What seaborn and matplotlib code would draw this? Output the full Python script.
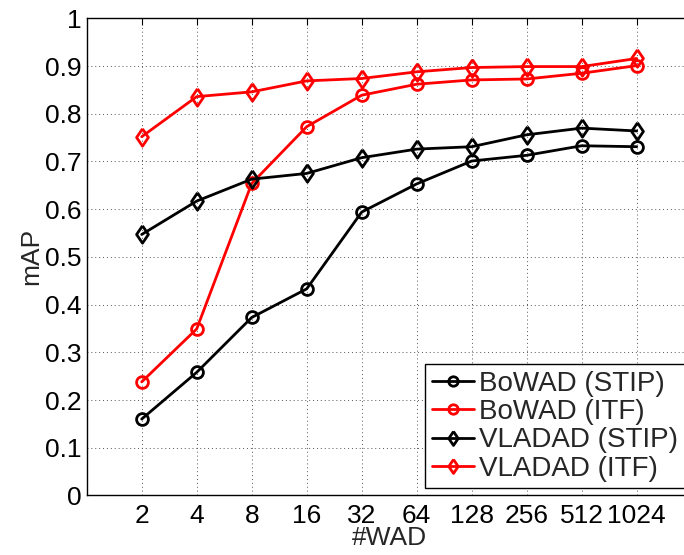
import pandas as pd
import matplotlib
matplotlib.use("Agg")
import matplotlib.pyplot as plt
import seaborn as sns
import numpy as np

# number of WAD (x categories)
wad_labels = ["2", "4", "8", "16", "32", "64", "128", "256", "512", "1024"]

# mAP values
bowad_stip = [0.160, 0.258, 0.373, 0.433, 0.594, 0.653, 0.701, 0.713, 0.733, 0.731]
bowad_itf = [0.238, 0.349, 0.654, 0.773, 0.839, 0.862, 0.871, 0.873, 0.885, 0.901]
vladad_stip = [0.547, 0.617, 0.663, 0.675, 0.708, 0.726, 0.731, 0.756, 0.770, 0.764]
vladad_itf = [0.752, 0.836, 0.846, 0.869, 0.874, 0.888, 0.897, 0.899, 0.899, 0.916]

series_names = ["BoWAD (STIP)", "BoWAD (ITF)", "VLADAD (STIP)", "VLADAD (ITF)"]
series_values = [bowad_stip, bowad_itf, vladad_stip, vladad_itf]


def build_frame():
    """
    Builds a long-form DataFrame with one row per point.
    """
    rows = []
    for name, values in zip(series_names, series_values):
        for i, v in enumerate(values):
            rows.append({"pos": i, "mAP": v, "method": name})
    return pd.DataFrame(rows)


def plot_map_curves(df):
    """
    Plots mAP against the number of WAD for each method.
    """
    sns.set_theme(style="white")
    plt.rcParams["font.family"] = ["Liberation Sans", "DejaVu Sans"]

    fig = plt.figure(figsize=(6.84, 5.55), dpi=100)
    # the original figure is cropped on the right, so the axes runs past the edge
    ax = fig.add_axes([86.7 / 684, 59.6 / 555, 605 / 684, 477 / 555])

    # matlab style diamond, taller than wide
    diamond = [(0, 1), (0.68, 0), (0, -1), (-0.68, 0), (0, 1)]
    styles = {
        "BoWAD (STIP)": ("black", "o", 8.5),
        "BoWAD (ITF)": ("red", "o", 8.5),
        "VLADAD (STIP)": ("black", diamond, 12.5),
        "VLADAD (ITF)": ("red", diamond, 12.5),
    }
    for name in series_names:
        color, marker, ms = styles[name]
        sns.lineplot(data=df[df["method"] == name], x="pos", y="mAP", ax=ax,
                     color=color, marker=marker, markersize=ms,
                     markerfacecolor="none", markeredgecolor=color,
                     markeredgewidth=2.0, linewidth=2.0, label=name)

    ax.set_xlim(-1, 10)
    ax.set_ylim(0, 1)
    ax.set_xticks(np.arange(len(wad_labels)))
    ax.set_xticklabels(wad_labels)
    ax.set_yticks(np.arange(0, 1.01, 0.1))
    ax.set_yticklabels(["0", "0.1", "0.2", "0.3", "0.4", "0.5",
                        "0.6", "0.7", "0.8", "0.9", "1"])
    ax.tick_params(direction="in", length=5, width=0.8, top=True, right=True,
                   labelsize=19, colors="black")
    ax.tick_params(axis="x", pad=6.5)
    ax.tick_params(axis="y", pad=3.6)
    ax.grid(True, linestyle=(0, (1, 3)), color="#555555", linewidth=0.7)
    for spine in ax.spines.values():
        spine.set_color("black")
        spine.set_linewidth(1.0)

    ax.set_xlabel("#WAD", fontsize=19, labelpad=-1.5)
    ax.set_ylabel("mAP", fontsize=19, labelpad=1.5)

    leg = ax.legend(loc="lower right", fontsize=20, frameon=True, fancybox=False,
                    edgecolor="black", framealpha=1, borderaxespad=0.25,
                    handlelength=1.5, handletextpad=0.18, labelspacing=0.08,
                    borderpad=0.25, markerscale=0.8)
    leg.get_frame().set_linewidth(1.0)

    fig.savefig("out.png", dpi=100)


plot_map_curves(build_frame())
